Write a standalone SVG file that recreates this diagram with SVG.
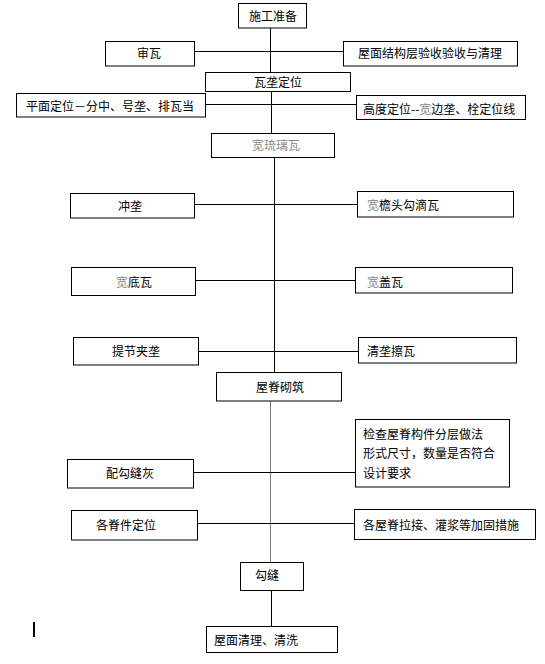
<svg xmlns="http://www.w3.org/2000/svg" width="545" height="664" viewBox="0 0 545 664">
<style>
.b{fill:#fff;stroke:#000;stroke-width:1}
.t{font-family:"Noto Sans CJK SC","Noto Sans CJK TC",sans-serif;font-size:12px;fill:#000}
.g{fill:#888}
.c{stroke:#000;stroke-width:1;fill:none}
</style>
<rect width="545" height="664" fill="#fff"/>
<g id="connectors">
<line class="c" x1="270.5" y1="28" x2="270.5" y2="72"/>
<line class="c" x1="194" y1="51.5" x2="343" y2="51.5"/>
<line class="c" x1="271.5" y1="92" x2="271.5" y2="134"/>
<line class="c" x1="205" y1="104.5" x2="356" y2="104.5"/>
<line class="c" x1="274.5" y1="158" x2="274.5" y2="372"/>
<line class="c" x1="194" y1="204.5" x2="357" y2="204.5"/>
<line class="c" x1="195" y1="280.5" x2="355" y2="280.5"/>
<line class="c" x1="198" y1="351.5" x2="358" y2="351.5"/>
<line x1="270.5" y1="401" x2="270.5" y2="562" stroke="#777" stroke-width="1"/>
<line class="c" x1="193" y1="472.5" x2="355" y2="472.5"/>
<line class="c" x1="197" y1="523.5" x2="354" y2="523.5"/>
<line class="c" x1="271.5" y1="590" x2="271.5" y2="626"/>
</g>
<g id="n1"><rect class="b" x="238.5" y="3.5" width="68" height="24.5"/><text class="t" x="249" y="21">施工准备</text></g>
<g id="n2"><rect class="b" x="105.5" y="41.5" width="89" height="24.5"/><text class="t" x="137" y="58">审瓦</text></g>
<g id="n3"><rect class="b" x="343.5" y="41.5" width="174" height="24.5"/><text class="t" x="358" y="58">屋面结构层验收验收与清理</text></g>
<g id="n4"><rect class="b" x="205.5" y="72.5" width="145" height="19"/><text class="t" x="254" y="87">瓦垄定位</text></g>
<g id="n5"><rect class="b" x="16.5" y="93.5" width="189" height="23.5"/><text class="t" x="26" y="111">平面定位－分中、号垄、排瓦当</text></g>
<g id="n6"><rect class="b" x="356.5" y="95.5" width="169" height="24"/><text class="t" x="363" y="114">高度定位--<tspan class="g">宽</tspan>边垄、栓定位线</text></g>
<g id="n7"><rect class="b" x="211.5" y="133.5" width="123" height="24"/><text class="t g" x="252" y="150">宽琉璃瓦</text></g>
<g id="n8"><rect class="b" x="70.5" y="193.5" width="124" height="24.5"/><text class="t" x="118" y="211">冲垄</text></g>
<g id="n9"><rect class="b" x="357.5" y="191.5" width="156" height="25.5"/><text class="t" x="367" y="210"><tspan class="g">宽</tspan>檐头勾滴瓦</text></g>
<g id="n10"><rect class="b" x="71.5" y="267.5" width="124" height="28"/><text class="t" x="116" y="287"><tspan class="g">宽</tspan>底瓦</text></g>
<g id="n11"><rect class="b" x="355.5" y="267.5" width="157" height="25.5"/><text class="t" x="367" y="287"><tspan class="g">宽</tspan>盖瓦</text></g>
<g id="n12"><rect class="b" x="73.5" y="337.5" width="125" height="27.5"/><text class="t" x="112" y="356">提节夹垄</text></g>
<g id="n13"><rect class="b" x="358.5" y="337.5" width="158" height="25.5"/><text class="t" x="367" y="356">清垄擦瓦</text></g>
<g id="n14"><rect class="b" x="216.5" y="372.5" width="125" height="28.5"/><text class="t" x="256" y="392">屋脊砌筑</text></g>
<g id="n15"><rect class="b" x="355.5" y="419.5" width="154" height="67.5"/><text class="t" x="363" y="439">检查屋脊构件分层做法</text><text class="t" x="363" y="458">形式尺寸，数量是否符合</text><text class="t" x="363" y="478">设计要求</text></g>
<g id="n16"><rect class="b" x="67.5" y="459.5" width="126" height="28.5"/><text class="t" x="106" y="478">配勾缝灰</text></g>
<g id="n17"><rect class="b" x="71.5" y="510.5" width="126" height="29.5"/><text class="t" x="96" y="530">各脊件定位</text></g>
<g id="n18"><rect class="b" x="354.5" y="509.5" width="181" height="30"/><text class="t" x="363" y="530">各屋脊拉接、灌浆等加固措施</text></g>
<g id="n19"><rect class="b" x="240.5" y="562.5" width="63" height="28"/><text class="t" x="255" y="580">勾缝</text></g>
<g id="n20"><rect class="b" x="206.5" y="626.5" width="131" height="26"/><text class="t" x="214" y="645">屋面清理、清洗</text></g>
<rect x="33" y="622" width="2" height="15" fill="#000"/>
</svg>
